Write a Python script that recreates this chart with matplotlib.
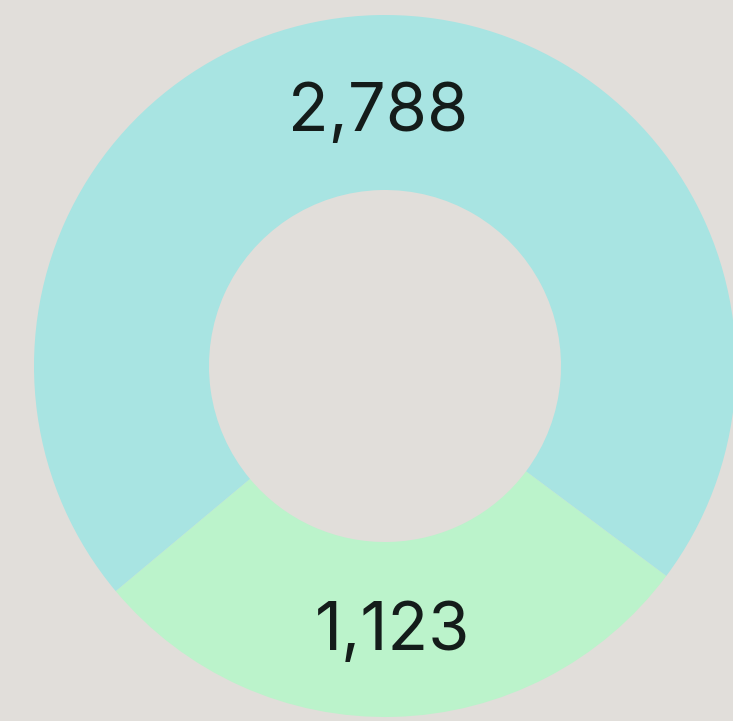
import matplotlib.pyplot as plt

# donut values
labels = ['1,123', '2,788']
values = [1123, 2788]
colors = ['#bbf3cb', '#a8e4e2']

bg = '#e1deda'

fig = plt.figure(figsize=(7.33, 7.21), dpi=100, facecolor=bg)
ax = fig.add_axes([0, 0, 1, 1])
ax.set_facecolor(bg)

wedges, texts = ax.pie(values, colors=colors, labels=labels,
                       center=(385, 355), radius=351, startangle=219.9,
                       counterclock=True, labeldistance=0.74,
                       wedgeprops=dict(width=175, linewidth=0),
                       textprops=dict(fontsize=48, color='#141c1a',
                                      family='Inter', ha='center',
                                      va='center_baseline'),
                       frame=True)
ax.set_xlim(0, 733)
ax.set_ylim(0, 721)
ax.set_aspect('equal')
ax.axis('off')

fig.savefig('out.png', dpi=100, facecolor=bg)
